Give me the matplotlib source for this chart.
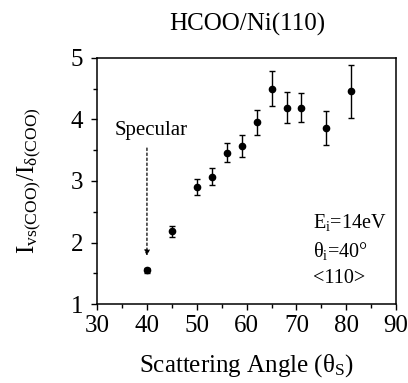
import matplotlib
matplotlib.use("Agg")
import matplotlib.pyplot as plt
from matplotlib.ticker import MultipleLocator

angles = [40, 45, 50, 53, 56, 59, 62, 65, 68, 71, 76, 81]
ratios = [1.55, 2.18, 2.90, 3.07, 3.46, 3.57, 3.95, 4.50, 4.19, 4.19, 3.86, 4.46]
errors = [0.04, 0.09, 0.13, 0.14, 0.16, 0.18, 0.20, 0.28, 0.25, 0.24, 0.27, 0.43]
x_ticks = [30, 40, 50, 60, 70, 80, 90]
y_ticks = [1, 2, 3, 4, 5]

plt.rcParams['font.family'] = ['Liberation Serif', 'DejaVu Serif']
plt.rcParams['mathtext.fontset'] = 'custom'
plt.rcParams['mathtext.rm'] = 'Liberation Serif'
plt.rcParams['mathtext.it'] = 'Liberation Serif:italic'

fig = plt.figure(figsize=(4.08, 3.83), dpi=100)
ax = fig.add_axes([0.238, 0.206, 0.733, 0.643])

ax.errorbar(angles, ratios, yerr=errors, fmt='o', color='black', ms=4.5,
            elinewidth=1.0, capsize=2, capthick=1.0)

ax.set_xlim(30, 90)
ax.set_ylim(1, 5)
ax.set_xticks(x_ticks)
ax.set_yticks(y_ticks)
ax.xaxis.set_minor_locator(MultipleLocator(5))
ax.yaxis.set_minor_locator(MultipleLocator(0.5))
ax.tick_params(which='both', direction='out', labelsize=18, width=1)
ax.tick_params(which='major', length=4)
ax.tick_params(which='minor', length=3)
ax.tick_params(axis='y', pad=6)
for s in ax.spines.values():
    s.set_linewidth(1.1)

ax.set_xlabel(r'Scattering Angle ($\mathregular{\theta_S}$)', fontsize=18, labelpad=11)
ax.set_ylabel(r'$\mathregular{I_{vs(COO)}/I_{\delta(COO)}}$', fontsize=18, labelpad=20)
fig.text(0.605, 0.935, 'HCOO/Ni(110)', ha='center', va='center', fontsize=18)

ax.text(40.8, 3.82, 'Specular', ha='center', va='center', fontsize=15)
ax.annotate('', xy=(40, 1.74), xytext=(40, 3.58),
            arrowprops=dict(arrowstyle='-|>', linestyle=(0, (2, 2)), color='black',
                            lw=0.9, mutation_scale=8))

ax.text(73.4, 2.32, r'$\mathregular{E_i}$=14eV', ha='left', va='center', fontsize=14.5)
ax.text(73.4, 1.86, r'$\mathregular{\theta_i}$=40°', ha='left', va='center', fontsize=14.5)
ax.text(73.4, 1.41, '<110>', ha='left', va='center', fontsize=14.5)

fig.savefig('out.png', dpi=100)
